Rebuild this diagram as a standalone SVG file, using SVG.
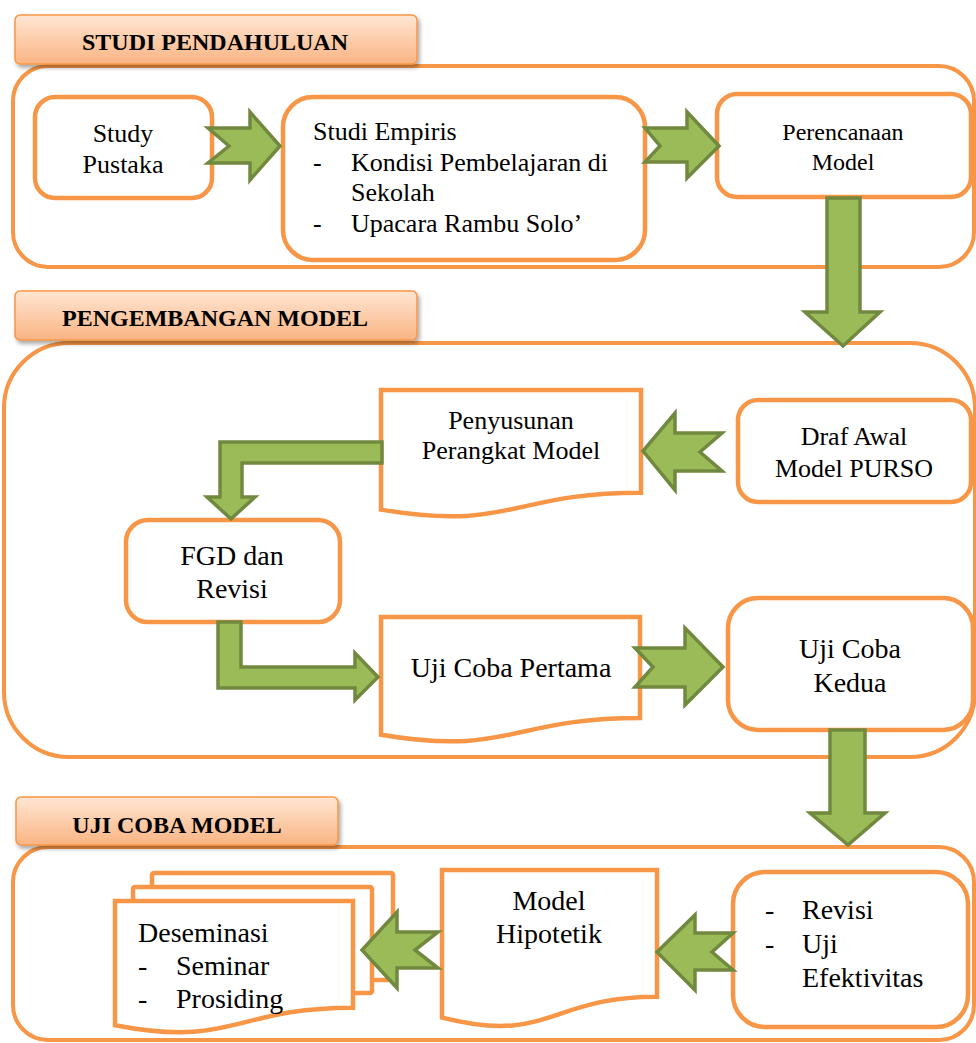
<svg xmlns="http://www.w3.org/2000/svg" width="976" height="1043" viewBox="0 0 976 1043">
<defs>
<linearGradient id="hdr" x1="0" y1="0" x2="0" y2="1">
<stop offset="0" stop-color="#FFE6D3"/>
<stop offset="1" stop-color="#FAB483"/>
</linearGradient>
<filter id="sh" x="-5%" y="-20%" width="112%" height="160%">
<feDropShadow dx="2" dy="3" stdDeviation="2" flood-color="#000" flood-opacity="0.35"/>
</filter>
<style>
.cont{fill:#fff;stroke:#F79646;stroke-width:4}
.box{fill:#fff;stroke:#F79646;stroke-width:4.5}
.hdr{fill:url(#hdr);stroke:#F79646;stroke-width:1.5;filter:url(#sh)}
.arr{fill:#9BBB59;stroke:#71893F;stroke-width:3.5;stroke-linejoin:miter}
text{font-family:"Liberation Serif","Times New Roman",serif;fill:#000}
.h{font-size:24px;font-weight:bold;text-anchor:middle}
.t24{font-size:24px}
.t26{font-size:26px}
.t28{font-size:28px}
.c{text-anchor:middle}
</style>
</defs>
<rect width="976" height="1043" fill="#fff"/>

<g id="section-studi-pendahuluan">
<rect class="cont" x="13" y="66" width="961" height="201" rx="35"/>
<rect class="hdr" x="15" y="15" width="402" height="49" rx="5"/>
<text class="h" x="215" y="50">STUDI PENDAHULUAN</text>
</g>
<g id="section-pengembangan-model">
<rect class="cont" x="4" y="343" width="971" height="414" rx="65"/>
<rect class="hdr" x="15" y="291" width="402" height="49" rx="5"/>
<text class="h" x="215" y="326">PENGEMBANGAN MODEL</text>
</g>
<g id="section-uji-coba-model">
<rect class="cont" x="13" y="847" width="961" height="193" rx="35"/>
<rect class="hdr" x="16" y="797" width="322" height="48" rx="5"/>
<text class="h" x="177" y="833">UJI COBA MODEL</text>
</g>

<g id="study-pustaka">
<rect class="box" x="35" y="97" width="177" height="101" rx="20"/>
<text class="t26 c" x="123" y="142">Study</text>
<text class="t26 c" x="123" y="173">Pustaka</text>
</g>
<g id="studi-empiris">
<rect class="box" x="283" y="97" width="362" height="163" rx="30"/>
<text class="t26" x="313" y="140">Studi Empiris</text>
<text class="t26" x="313" y="171">-</text>
<text class="t26" x="351" y="171">Kondisi Pembelajaran di</text>
<text class="t26" x="351" y="201">Sekolah</text>
<text class="t26" x="313" y="232">-</text>
<text class="t26" x="351" y="232">Upacara Rambu Solo’</text>
</g>
<g id="perencanaan-model">
<rect class="box" x="717" y="94" width="254" height="103" rx="20"/>
<text class="t24 c" x="843" y="140">Perencanaan</text>
<text class="t24 c" x="843" y="170">Model</text>
</g>
<g id="penyusunan">
<path class="box" d="M381 390 H641 V492.7 C511 492.7 511 531.7 381 509.6 Z"/>
<text class="t26 c" x="511" y="429">Penyusunan</text>
<text class="t26 c" x="511" y="459">Perangkat Model</text>
</g>
<g id="draf-awal">
<rect class="box" x="738" y="400" width="233" height="102" rx="20"/>
<text class="t26 c" x="854" y="445">Draf Awal</text>
<text class="t26 c" x="854" y="477">Model PURSO</text>
</g>
<g id="fgd-revisi">
<rect class="box" x="126" y="520" width="214" height="102" rx="22"/>
<text class="t28 c" x="232" y="565">FGD dan</text>
<text class="t28 c" x="232" y="598">Revisi</text>
</g>
<g id="uji-coba-pertama">
<path class="box" d="M381 617 H640 V718 C510.5 718 510.5 756.5 381 734.7 Z"/>
<text class="t28 c" x="511" y="677">Uji Coba Pertama</text>
</g>
<g id="uji-coba-kedua">
<rect class="box" x="728" y="598" width="245" height="132" rx="30"/>
<text class="t28 c" x="850" y="658">Uji Coba</text>
<text class="t28 c" x="850" y="692">Kedua</text>
</g>
<g id="revisi-uji">
<rect class="box" x="733" y="872" width="235" height="155" rx="32"/>
<text class="t28" x="765" y="919">-</text>
<text class="t28" x="802" y="919">Revisi</text>
<text class="t28" x="765" y="953">-</text>
<text class="t28" x="802" y="953">Uji</text>
<text class="t28" x="802" y="987">Efektivitas</text>
</g>
<g id="model-hipotetik">
<path class="box" d="M442 870 H657 V996.7 C549.5 996.7 549.5 1044.9 442 1017.6 Z"/>
<text class="t28 c" x="549" y="910">Model</text>
<text class="t28 c" x="549" y="943">Hipotetik</text>
</g>
<g id="deseminasi">
<rect class="box" x="152" y="873" width="241" height="107" rx="2"/>
<rect class="box" x="133" y="887" width="239" height="106" rx="2"/>
<path class="box" d="M115 901 H353 V1007.7 C234 1007.7 234 1048.2 115 1025.2 Z"/>
<text class="t28" x="138" y="942">Deseminasi</text>
<text class="t28" x="138" y="975">-</text>
<text class="t28" x="176" y="975">Seminar</text>
<text class="t28" x="138" y="1008">-</text>
<text class="t28" x="176" y="1008">Prosiding</text>
</g>

<g id="connectors">
<polygon class="arr" points="208,128 250,128 250,112 280,146 250,180 250,163 208,163 229,146"/>
<polygon class="arr" points="645,128 687,128 687,112 719,146 687,178 687,162 645,162 660,146"/>
<polygon class="arr" points="827,198 860,198 860,312 880,312 843,346 805,312 827,312"/>
<polygon class="arr" points="722,433 675,433 675,413 643,451 675,490 675,471 722,471 700,452"/>
<polygon class="arr" points="382,442 220,442 220,497 207,497 231,519 255,497 242,497 242,463 382,463"/>
<polygon class="arr" points="218,622 241,622 241,667 355,667 355,653 378,677 355,700 355,688 218,688"/>
<polygon class="arr" points="635,648 685,648 685,628 723,667 685,705 685,687 635,687 653,667"/>
<polygon class="arr" points="830,730 865,730 865,813 885,813 848,845 810,813 830,813"/>
<polygon class="arr" points="733,933 695,933 695,915 657,952 695,990 695,970 733,970 712,952"/>
<polygon class="arr" points="438,932 397,932 397,912 362,950 397,988 397,968 438,968 415,950"/>
</g>
</svg>
